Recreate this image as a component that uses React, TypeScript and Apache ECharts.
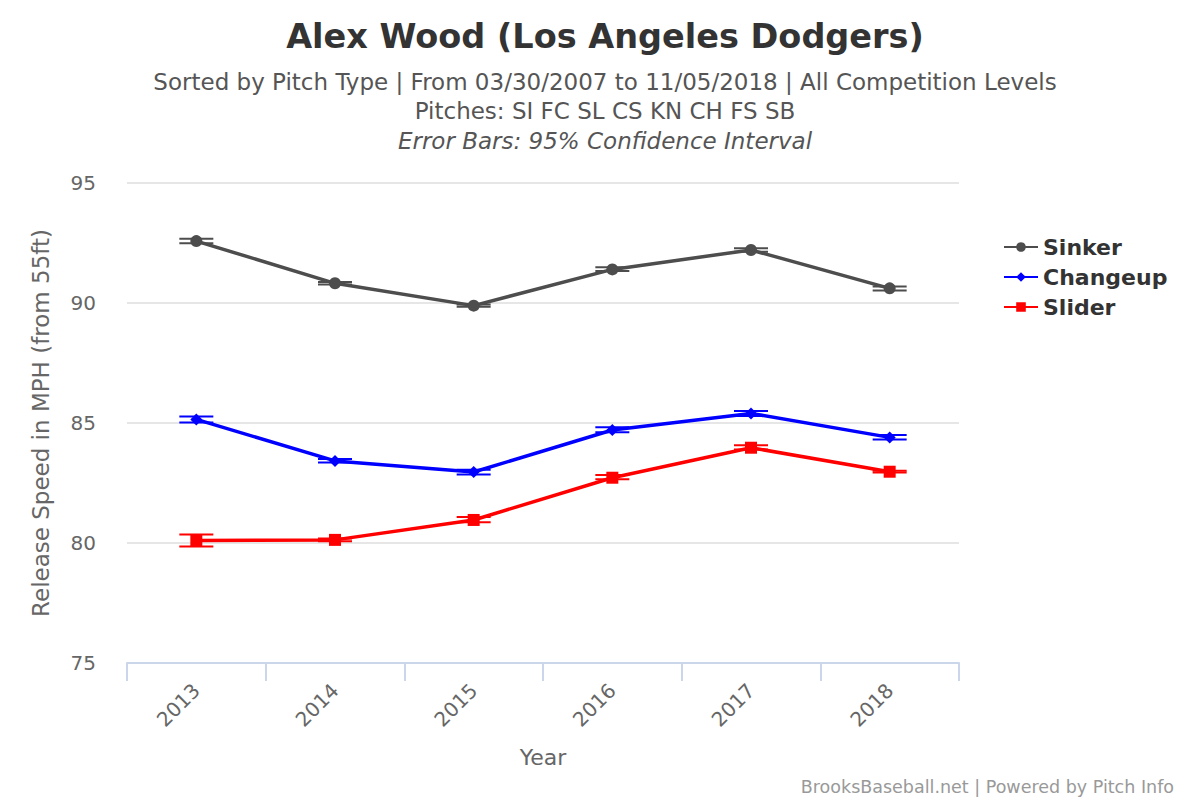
import React, { useEffect, useRef } from "react";
import * as echarts from "echarts";

const years = ["2013", "2014", "2015", "2016", "2017", "2018"];

const sinker = [92.58, 90.82, 89.89, 91.4, 92.21, 90.61];
const sinkerLow = [92.49, 90.77, 89.84, 91.33, 92.14, 90.52];
const sinkerHigh = [92.68, 90.87, 89.94, 91.49, 92.28, 90.69];

const changeup = [85.15, 83.42, 82.96, 84.71, 85.4, 84.4];
const changeupLow = [85.02, 83.35, 82.85, 84.61, 85.29, 84.31];
const changeupHigh = [85.27, 83.5, 83.05, 84.82, 85.5, 84.5];

const slider = [80.1, 80.13, 80.96, 82.72, 83.97, 82.97];
const sliderLow = [79.85, 80.07, 80.86, 82.66, 83.9, 82.94];
const sliderHigh = [80.35, 80.19, 81.08, 82.83, 84.07, 83.01];

const fontFamily = "'DejaVu Sans', sans-serif";

function errorBars(name: string, color: string, low: number[], high: number[]) {
  return {
    name,
    type: "custom",
    z: 1,
    data: low.map((l, i) => [i, l, high[i]]),
    encode: { x: 0, y: [1, 2] },
    renderItem: (params: any, api: any) => {
      const i = api.value(0);
      const lo = api.coord([i, api.value(1)]);
      const hi = api.coord([i, api.value(2)]);
      const half = 17;
      const style = { stroke: color, lineWidth: 2 };
      return {
        type: "group",
        children: [
          { type: "line", shape: { x1: lo[0], y1: lo[1], x2: hi[0], y2: hi[1] }, style },
          { type: "line", shape: { x1: lo[0] - half, y1: lo[1], x2: lo[0] + half, y2: lo[1] }, style },
          { type: "line", shape: { x1: hi[0] - half, y1: hi[1], x2: hi[0] + half, y2: hi[1] }, style },
        ],
      };
    },
  };
}

function lineSeries(name: string, color: string, symbol: string, size: number, data: number[]) {
  return {
    name,
    type: "line",
    z: 3,
    data,
    symbol,
    symbolSize: size,
    showSymbol: true,
    lineStyle: { color, width: 3.5 },
    itemStyle: { color },
  };
}

export default function App() {
  const chartRef = useRef<HTMLDivElement>(null);

  useEffect(() => {
    if (!chartRef.current) return;
    const chart = echarts.init(chartRef.current, null, { renderer: "svg" });

    const subStyle = { fontSize: 23, fontWeight: "normal", color: "#555555", fontFamily };

    const option = {
      animation: false,
      backgroundColor: "#ffffff",
      textStyle: { fontFamily },
      title: [
        {
          text: "Alex Wood (Los Angeles Dodgers)",
          left: 600,
          top: 14,
          textAlign: "center",
          textStyle: { fontSize: 33.5, fontWeight: "bold", color: "#333333", fontFamily },
        },
        {
          text: "Sorted by Pitch Type | From 03/30/2007 to 11/05/2018 | All Competition Levels",
          left: 600,
          top: 65,
          textAlign: "center",
          textStyle: subStyle,
        },
        {
          text: "Pitches: SI FC SL CS KN CH FS SB",
          left: 600,
          top: 94,
          textAlign: "center",
          textStyle: subStyle,
        },
        {
          text: "Error Bars: 95% Confidence Interval",
          left: 600,
          top: 124,
          textAlign: "center",
          textStyle: { ...subStyle, fontStyle: "italic" },
        },
        {
          text: "BrooksBaseball.net | Powered by Pitch Info",
          right: 21,
          top: 773,
          textStyle: { fontSize: 17.5, fontWeight: "normal", color: "#999999", fontFamily },
        },
      ],
      legend: {
        orient: "vertical",
        left: 998,
        top: 231,
        itemGap: 8,
        itemWidth: 34,
        itemHeight: 12,
        data: ["Sinker", "Changeup", "Slider"],
        textStyle: { fontSize: 22, fontWeight: "bold", color: "#333333", fontFamily },
      },
      grid: { left: 127, right: 241, top: 183, bottom: 137 },
      xAxis: {
        type: "category",
        data: years,
        boundaryGap: true,
        name: "Year",
        nameLocation: "middle",
        nameGap: 83,
        nameTextStyle: { fontSize: 22, color: "#666666", fontFamily },
        axisLine: { lineStyle: { color: "#ccd6eb", width: 2 } },
        axisTick: { show: true, length: 18, lineStyle: { color: "#ccd6eb", width: 2 } },
        axisLabel: { rotate: 45, fontSize: 20, color: "#666666", margin: 24, fontFamily },
        splitLine: { show: false },
      },
      yAxis: {
        type: "value",
        min: 75,
        max: 95,
        interval: 5,
        name: "Release Speed in MPH (from 55ft)",
        nameLocation: "middle",
        nameGap: 75,
        nameTextStyle: { fontSize: 23, color: "#666666", fontFamily },
        axisLine: { show: false },
        axisTick: { show: false },
        axisLabel: { fontSize: 20, color: "#666666", margin: 31, fontFamily },
        splitLine: { lineStyle: { color: "#e6e6e6", width: 2 } },
      },
      series: [
        lineSeries("Sinker", "#4d4d4d", "circle", 12, sinker),
        lineSeries("Changeup", "#0000ff", "diamond", 12, changeup),
        lineSeries("Slider", "#ff0000", "rect", 12, slider),
        errorBars("Sinker 95% CI", "#4d4d4d", sinkerLow, sinkerHigh),
        errorBars("Changeup 95% CI", "#0000ff", changeupLow, changeupHigh),
        errorBars("Slider 95% CI", "#ff0000", sliderLow, sliderHigh),
      ],
    };

    chart.setOption(option);
    return () => chart.dispose();
  }, []);

  return (
    <div
      ref={chartRef}
      style={{ position: "absolute", left: 0, top: 0, width: "1200px", height: "800px" }}
    />
  );
}
